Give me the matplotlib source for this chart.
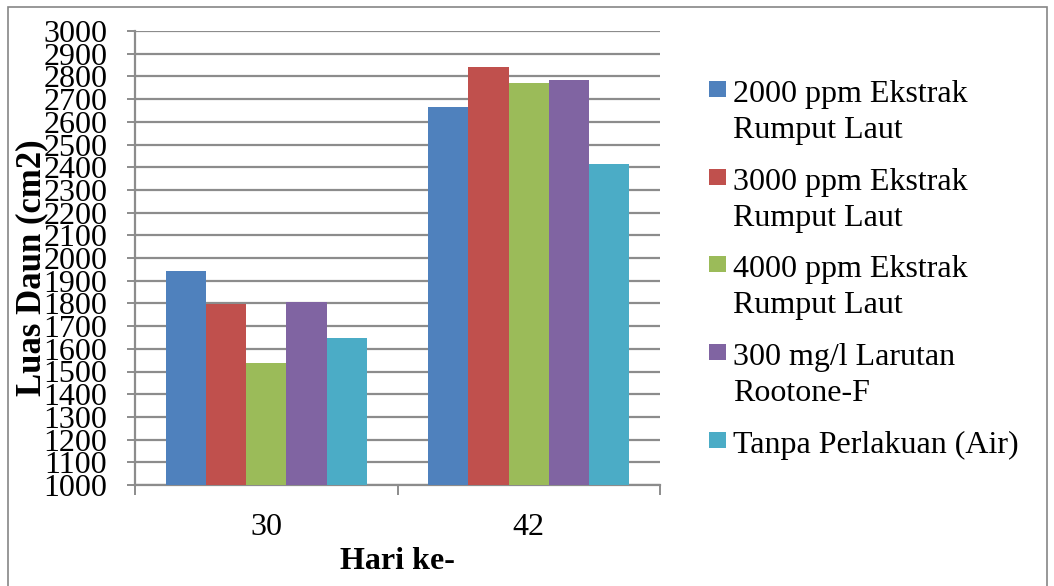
import numpy as np
import matplotlib
matplotlib.use('Agg')
import matplotlib.pyplot as plt
from matplotlib.patches import Rectangle

plt.rcParams['font.family'] = ['Liberation Serif', 'DejaVu Serif']

# data
days = ['30', '42']
series = ['2000 ppm Ekstrak\nRumput Laut',
          '3000 ppm Ekstrak\nRumput Laut',
          '4000 ppm Ekstrak\nRumput Laut',
          '300 mg/l Larutan\nRootone-F',
          'Tanpa Perlakuan (Air)']
val_2000 = [1941, 2667]
val_3000 = [1799, 2843]
val_4000 = [1538, 2772]
val_rootone = [1806, 2783]
val_air = [1647, 2413]
colors = ['#4F81BD', '#C0504D', '#9BBB59', '#8064A2', '#4BACC6']

W, H = 1054, 586
fig = plt.figure(figsize=(W / 100, H / 100), dpi=100)
# outer frame
fig.patches.append(Rectangle((8 / W, -0.01), 1039 / W, 1 - 7 / H + 0.01,
                             transform=fig.transFigure, fill=False,
                             edgecolor='#868686', linewidth=1.2))

ax = fig.add_axes([135 / W, 101 / H, 525 / W, 454 / H])

all_vals = [val_2000, val_3000, val_4000, val_rootone, val_air]
x = np.arange(len(days))
bw = 0.1532
for i, v in enumerate(all_vals):
    ax.bar(x + (i - 2) * bw, np.array(v) - 1000, bw, bottom=1000,
           color=colors[i], linewidth=0, zorder=3)

ax.set_xlim(-0.5, 1.5)
ax.set_ylim(1000, 3000)
ax.set_yticks(np.arange(1000, 3001, 100))
ax.yaxis.grid(True, color='#8c8c8c', linewidth=1.6, zorder=0)
ax.set_axisbelow(True)

ax.set_xticks([-0.5, 0.5, 1.5])
ax.set_xticklabels([])
ax.set_xticks(x, minor=True)
ax.set_xticklabels(days, minor=True)
ax.tick_params(axis='x', which='major', direction='out', length=7,
               color='#8c8c8c', width=1.4)
ax.tick_params(axis='x', which='minor', length=0, pad=20, labelsize=23)
ax.tick_params(axis='y', direction='out', length=6, color='#8c8c8c',
               width=1.4, labelsize=23, pad=14)

for s in ['top', 'right']:
    ax.spines[s].set_visible(False)
for s in ['left', 'bottom']:
    ax.spines[s].set_color('#8c8c8c')
    ax.spines[s].set_linewidth(1.6)

ax.set_xlabel('Hari ke-', fontsize=23, fontweight='bold', labelpad=4)
# y label sits over the tick labels like in the reference
fig.text(31.5 / W, 1 - 268 / H, 'Luas Daun (cm2)', fontsize=25,
         fontweight='bold', rotation=90, ha='center', va='center')

# legend drawn by hand so the square sits on the first line
base0 = 102
step = 87.7
for i, lab in enumerate(series):
    b = base0 + i * step
    fig.patches.append(Rectangle((709 / W, 1 - (b - 5) / H), 17 / W, 16 / H,
                                 transform=fig.transFigure,
                                 facecolor=colors[i], edgecolor='none'))
    lines = lab.split('\n')
    for k, ln in enumerate(lines):
        fig.text(733 / W, 1 - (b + k * 36) / H, ln, fontsize=23,
                 va='baseline', ha='left')

fig.savefig('out.png', dpi=100)
